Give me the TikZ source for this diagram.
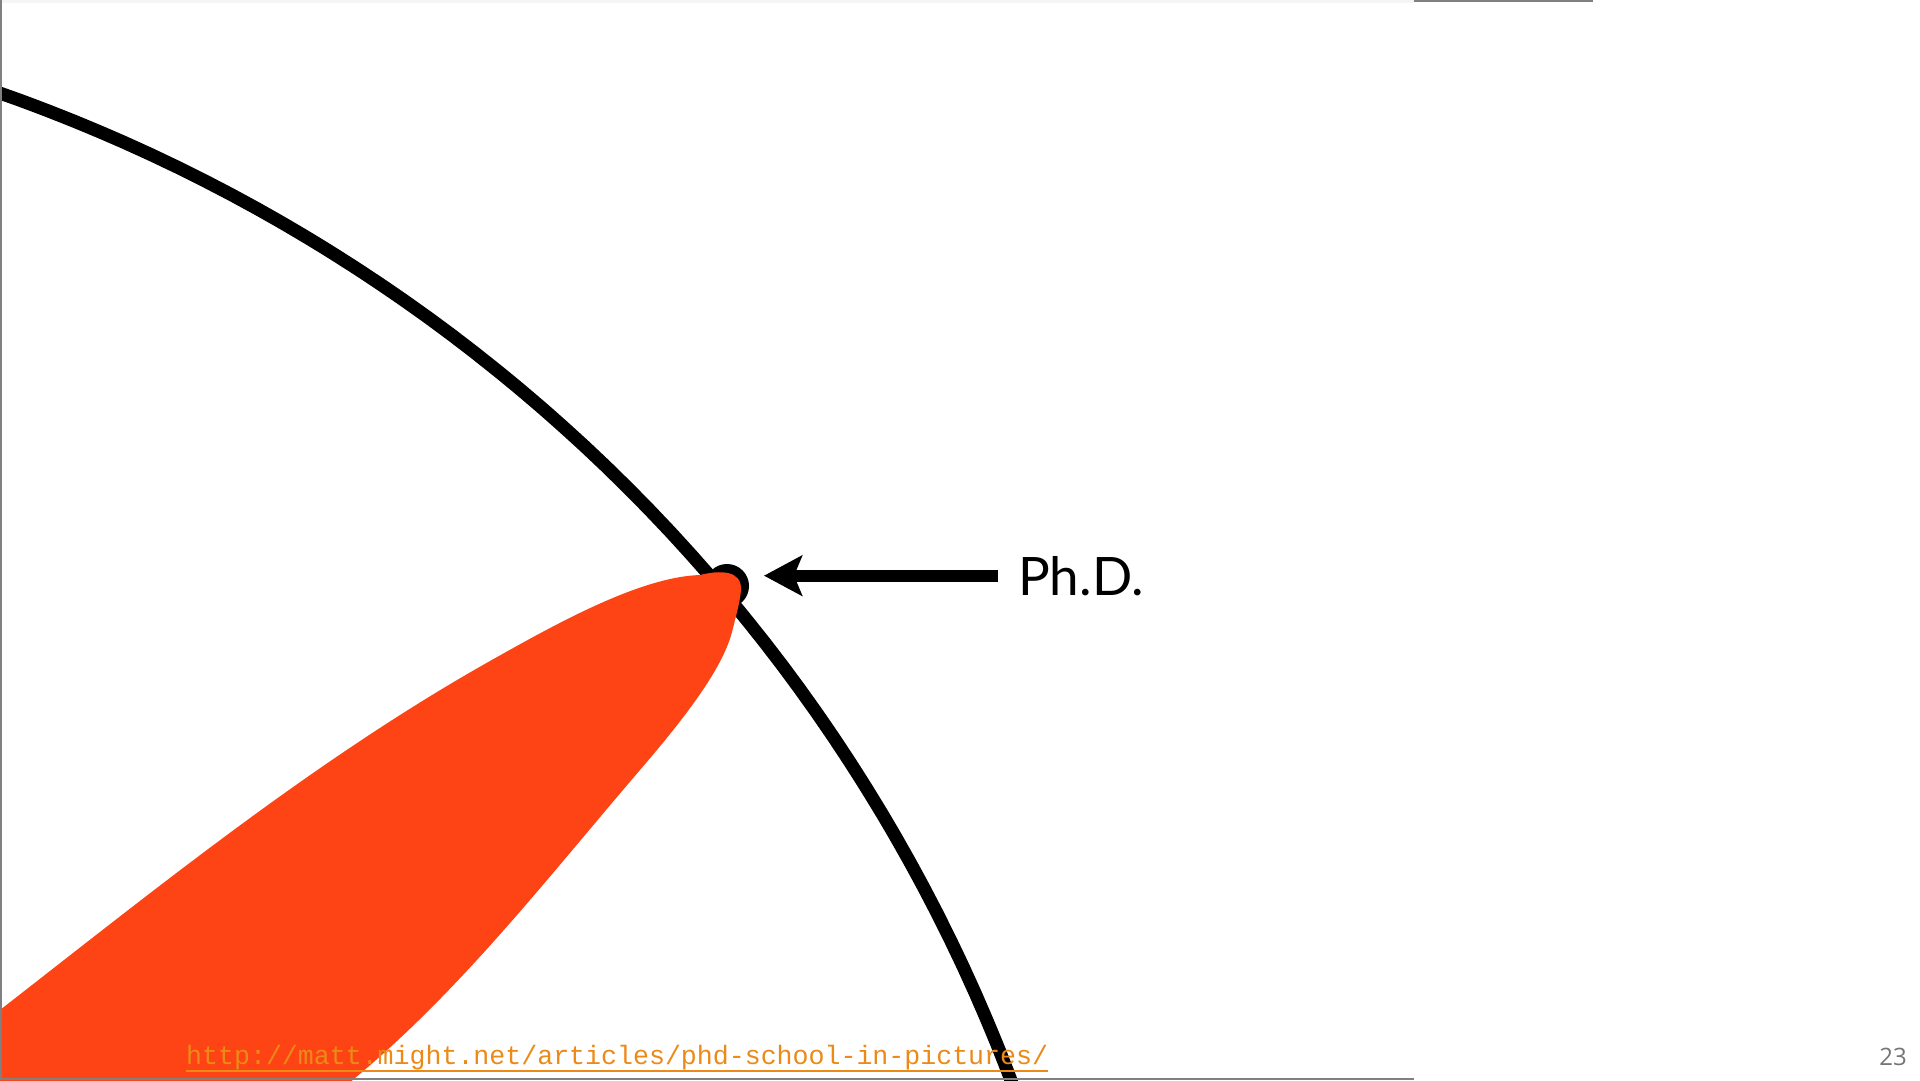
\documentclass[tikz,border=0pt]{standalone}
\usepackage{fontspec}
\usetikzlibrary{arrows.meta}
\newfontfamily\labelfont{Lato}
\newfontfamily\urlfont{Liberation Mono}
\newfontfamily\numfont{Open Sans}
\definecolor{phdred}{RGB}{254,67,21}
\definecolor{linkorange}{RGB}{236,138,24}
\definecolor{framegray}{RGB}{128,128,128}
\definecolor{numgray}{RGB}{117,117,117}
\tikzset{
  curveline/.style={line width=13pt, black, line cap=butt},
  ringnode/.style={draw=black, circle, line width=10pt, minimum size=34pt, inner sep=0pt},
  arrowline/.style={line width=12pt, black, -{Stealth[length=38pt,width=40pt,inset=8pt]}},
  labeltext/.style={inner sep=0pt, anchor=base west, font=\labelfont\fontsize{53}{60}\selectfont},
  urltext/.style={inner sep=0pt, anchor=base west, text=linkorange, font=\urlfont\fontsize{26.6}{30}\selectfont},
  numtext/.style={inner sep=0pt, anchor=base east, text=numgray, font=\numfont\fontsize{24}{28}\selectfont},
  frameline/.style={line width=2pt, framegray},
}
\begin{document}
\begin{tikzpicture}[x=1pt,y=-1pt]
\useasboundingbox (0,0) rectangle (1920,1080);
\fill[white] (0,0) rectangle (1920,1080);
\begin{scope}
\clip (0,0) rectangle (1920,1080);
% big black curve: arc of a circle, centre (-556,1673.8), radius 1675.7
\draw[curveline] plot[domain=72:17, samples=160, variable=\t]
  ({-556+1675.7*cos(\t)}, {1673.8-1675.7*sin(\t)});
% ring marker
\node[ringnode] (dot) at (727,586) {};
% red teardrop
\fill[phdred] (-30,1033) -- (0,1010)
  .. controls (158,887) and (316,759) .. (490,661)
  .. controls (557,623.3) and (640,577) .. (700,575)
  .. controls (720,570) and (742,570) .. (741,590)
  .. controls (740,602) and (736,616) .. (732,632)
  .. controls (722,670) and (683.6,719.1) .. (640,770)
  .. controls (549,876) and (463,988) .. (355,1078)
  -- (316,1111) -- (-30,1111) -- cycle;
% frame lines
\draw[line width=3pt, black!4] (0,1) -- (1414,1);
\draw[frameline] (1414,0.5) -- (1593,0.5);
\draw[frameline] (1,0) -- (1,1079);
\draw[frameline] (0,1079) -- (1414,1079);
\end{scope}
% label and arrow
\node[labeltext] (lbl) at (1018,595) {Ph.D.};
\draw[arrowline, shorten <=20pt, shorten >=15pt] (lbl.west) -- (dot.east |- lbl.west);
% url
\node[urltext] (url) at (186,1064) {http://matt.might.net/articles/phd-school-in-pictures/};
\path (url.base west) ++(0,7) coordinate (ulA) (url.base east) ++(0,7) coordinate (ulB);
\draw[linkorange, line width=2pt] (ulA) -- (ulB);
% page number
\node[numtext] (pnum) at (1907,1065) {23};
\end{tikzpicture}
\end{document}
